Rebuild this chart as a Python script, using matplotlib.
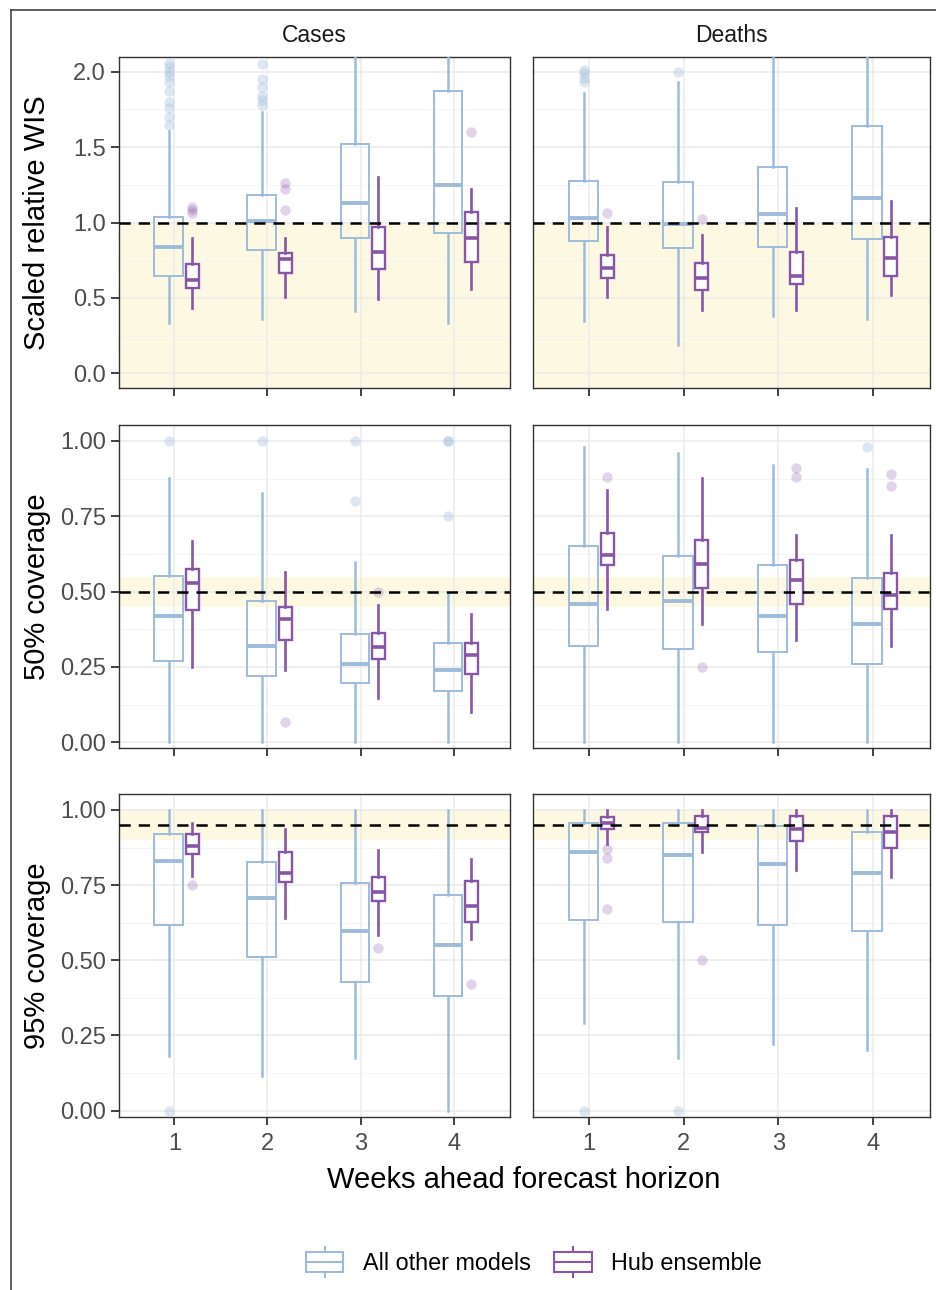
import numpy as np
import matplotlib
matplotlib.use("Agg")
import matplotlib.pyplot as plt
from matplotlib.lines import Line2D
from matplotlib.patches import Rectangle
from matplotlib.legend_handler import HandlerBase

plt.rcParams['font.family'] = ['Liberation Sans', 'DejaVu Sans']

horizons = [1, 2, 3, 4]
targets = ["Cases", "Deaths"]
group_labels = ["All other models", "Hub ensemble"]

# each row: [whisker low, q1, median, q3, whisker high] for horizons 1..4
wis_cases_others = [[0.334, 0.645, 0.84, 1.035, 1.61], [0.363, 0.817, 1.01, 1.183, 1.736],
                    [0.41, 0.90, 1.13, 1.52, 2.6], [0.334, 0.928, 1.25, 1.874, 2.9]]
wis_cases_others_out = [[1.65, 1.70, 1.76, 1.80, 1.87, 1.93, 1.97, 2.00, 2.03, 2.06],
                        [1.78, 1.81, 1.84, 1.90, 1.95, 2.05], [], []]
wis_cases_hub = [[0.43, 0.563, 0.618, 0.724, 0.895], [0.507, 0.667, 0.755, 0.795, 0.895],
                 [0.49, 0.693, 0.806, 0.972, 1.30], [0.556, 0.735, 0.90, 1.068, 1.22]]
wis_cases_hub_out = [[1.06, 1.08, 1.10], [1.08, 1.22, 1.26], [], [1.60]]

wis_deaths_others = [[0.348, 0.877, 1.028, 1.276, 1.858], [0.19, 0.828, 0.99, 1.27, 1.935],
                     [0.379, 0.835, 1.054, 1.37, 2.5], [0.357, 0.888, 1.16, 1.637, 2.8]]
wis_deaths_others_out = [[1.93, 1.96, 1.99, 2.01], [2.0], [], []]
wis_deaths_hub = [[0.507, 0.633, 0.696, 0.784, 0.972], [0.419, 0.551, 0.629, 0.728, 0.917],
                  [0.419, 0.591, 0.645, 0.806, 1.094], [0.518, 0.645, 0.762, 0.902, 1.143]]
wis_deaths_hub_out = [[1.065], [1.02], [], []]

cov50_cases_others = [[0.0, 0.27, 0.42, 0.551, 0.876], [0.0, 0.219, 0.319, 0.468, 0.828],
                      [0.0, 0.197, 0.259, 0.359, 0.599], [0.0, 0.169, 0.239, 0.33, 0.496]]
cov50_cases_others_out = [[1.0], [1.0], [0.8, 1.0], [0.75, 1.0, 1.0]]
cov50_cases_hub = [[0.25, 0.439, 0.527, 0.574, 0.668], [0.24, 0.341, 0.41, 0.45, 0.566],
                   [0.148, 0.275, 0.317, 0.363, 0.457], [0.10, 0.225, 0.289, 0.331, 0.427]]
cov50_cases_hub_out = [[], [0.067], [0.5], []]

cov50_deaths_others = [[0.0, 0.321, 0.458, 0.651, 0.979], [0.0, 0.308, 0.469, 0.619, 0.959],
                       [0.0, 0.298, 0.42, 0.59, 0.92], [0.0, 0.259, 0.391, 0.546, 0.906]]
cov50_deaths_others_out = [[], [], [], [0.98]]
cov50_deaths_hub = [[0.441, 0.588, 0.621, 0.693, 0.837], [0.391, 0.511, 0.591, 0.671, 0.878],
                    [0.341, 0.458, 0.54, 0.605, 0.688], [0.319, 0.441, 0.488, 0.562, 0.688]]
cov50_deaths_hub_out = [[0.881], [0.25], [0.879, 0.91], [0.85, 0.89]]

cov95_cases_others = [[0.182, 0.618, 0.829, 0.92, 1.0], [0.114, 0.511, 0.708, 0.828, 1.0],
                      [0.174, 0.428, 0.599, 0.756, 1.0], [0.0, 0.381, 0.55, 0.718, 1.0]]
cov95_cases_others_out = [[0.0], [], [], []]
cov95_cases_hub = [[0.781, 0.855, 0.881, 0.92, 0.955], [0.641, 0.759, 0.789, 0.859, 0.936],
                   [0.583, 0.696, 0.728, 0.778, 0.866], [0.57, 0.627, 0.679, 0.765, 0.837]]
cov95_cases_hub_out = [[0.75], [], [0.54], [0.42]]

cov95_deaths_others = [[0.29, 0.635, 0.861, 0.958, 1.0], [0.174, 0.627, 0.85, 0.958, 1.0],
                       [0.221, 0.618, 0.82, 0.947, 1.0], [0.202, 0.599, 0.789, 0.925, 1.0]]
cov95_deaths_others_out = [[0.0], [0.0], [], []]
cov95_deaths_hub = [[0.886, 0.938, 0.958, 0.978, 1.0], [0.861, 0.925, 0.941, 0.98, 1.0],
                    [0.80, 0.897, 0.936, 0.98, 1.0], [0.778, 0.873, 0.927, 0.98, 1.0]]
cov95_deaths_hub_out = [[0.67, 0.84, 0.87], [0.5], [], []]

row_titles = ["Scaled relative WIS", "50% coverage", "95% coverage"]
ref_lines = [1.0, 0.5, 0.95]
bands = [(-0.1, 1.0), (0.45, 0.55), (0.9, 1.0)]

panels = [
    [(wis_cases_others, wis_cases_others_out, wis_cases_hub, wis_cases_hub_out),
     (wis_deaths_others, wis_deaths_others_out, wis_deaths_hub, wis_deaths_hub_out)],
    [(cov50_cases_others, cov50_cases_others_out, cov50_cases_hub, cov50_cases_hub_out),
     (cov50_deaths_others, cov50_deaths_others_out, cov50_deaths_hub, cov50_deaths_hub_out)],
    [(cov95_cases_others, cov95_cases_others_out, cov95_cases_hub, cov95_cases_hub_out),
     (cov95_deaths_others, cov95_deaths_others_out, cov95_deaths_hub, cov95_deaths_hub_out)],
]

blue = "#9ebcda"
purple = "#8856a7"
band_col = "#fcf8e2"

W, H = 936, 1290
fig = plt.figure(figsize=(W / 100, H / 100), dpi=100)

col_px = [(118.5, 509.5), (532.5, 929.5)]
row_px = [(56.7, 388.3), (425.0, 748.3), (794.0, 1116.7)]


def to_stats(summ, outs):
    return [dict(whislo=s[0], q1=s[1], med=s[2], q3=s[3], whishi=s[4], fliers=o)
            for s, o in zip(summ, outs)]


for r in range(3):
    for c in range(2):
        x0, x1 = col_px[c]
        y0, y1 = row_px[r]
        ax = fig.add_axes([x0 / W, 1 - y1 / H, (x1 - x0) / W, (y1 - y0) / H])
        others, others_out, hub, hub_out = panels[r][c]

        ax.axhspan(bands[r][0], bands[r][1], color=band_col, lw=0, zorder=0.2)
        ax.set_axisbelow(True)

        pos_o = [h - 0.06 for h in horizons]
        pos_h = [h + 0.19 for h in horizons]
        ax.bxp(to_stats(others, others_out), positions=pos_o, widths=0.31,
               showcaps=False, patch_artist=True,
               boxprops=dict(facecolor="none", edgecolor=blue, linewidth=1.4),
               whiskerprops=dict(color=blue, linewidth=1.8),
               medianprops=dict(color=blue, linewidth=2.8),
               flierprops=dict(marker="o", markersize=7.5, markerfacecolor=blue,
                               markeredgecolor="none", alpha=0.35),
               manage_ticks=False, zorder=3)
        ax.bxp(to_stats(hub, hub_out), positions=pos_h, widths=0.14,
               showcaps=False, patch_artist=True,
               boxprops=dict(facecolor="white", edgecolor=purple, linewidth=1.7),
               whiskerprops=dict(color=purple, linewidth=1.9),
               medianprops=dict(color=purple, linewidth=2.6),
               flierprops=dict(marker="o", markersize=7.5, markerfacecolor=purple,
                               markeredgecolor="none", alpha=0.25),
               manage_ticks=False, zorder=3)

        ax.axhline(ref_lines[r], color="black", lw=1.8, dashes=(4.5, 3.2), zorder=4)

        ax.set_xlim(0.4, 4.6)
        ax.set_xticks(horizons)
        if r == 0:
            ax.set_ylim(-0.1, 2.1)
            ax.set_yticks([0, 0.5, 1.0, 1.5, 2.0])
            ax.set_yticks([0.25, 0.75, 1.25, 1.75], minor=True)
            ax.set_yticklabels(["0.0", "0.5", "1.0", "1.5", "2.0"])
        else:
            ax.set_ylim(-0.02, 1.053)
            ax.set_yticks([0, 0.25, 0.5, 0.75, 1.0])
            ax.set_yticks([0.125, 0.375, 0.625, 0.875], minor=True)
            ax.set_yticklabels(["0.00", "0.25", "0.50", "0.75", "1.00"])

        ax.grid(which="major", color="#ebebeb", lw=1.1)
        ax.grid(which="minor", axis="y", color="#f2f2f2", lw=0.6)
        for sp in ax.spines.values():
            sp.set_color("#333333")
            sp.set_linewidth(1.0)
        ax.tick_params(which="major", length=6, width=1.3, color="#333333",
                       labelsize=17, labelcolor="#4d4d4d", pad=3)
        ax.tick_params(axis="x", pad=6)
        ax.tick_params(which="minor", length=0)
        if c == 1:
            ax.tick_params(axis="y", which="both", left=False, labelleft=False)
        if r < 2:
            ax.tick_params(axis="x", labelbottom=False)

        if c == 0:
            yc = 1 - (y0 + y1) / 2 / H
            fig.text(37 / W, yc, row_titles[r], rotation=90, ha="center",
                     va="center", fontsize=21, color="black")
        if r == 0:
            fig.text((x0 + x1) / 2 / W, 1 - 35 / H, targets[c], ha="center",
                     va="center", fontsize=16.5, color="#1a1a1a")

fig.text(524 / W, 1 - 1180 / H, "Weeks ahead forecast horizon", ha="center",
         va="center", fontsize=21, color="black")


class BoxKey(HandlerBase):
    def create_artists(self, legend, orig_handle, xdescent, ydescent, width,
                       height, fontsize, trans):
        col = orig_handle.get_color()
        lw = orig_handle.get_linewidth()
        x0 = -xdescent
        y0 = -ydescent
        bh = height * 0.64
        by = y0 + (height - bh) / 2
        xm = x0 + width / 2
        rect = Rectangle((x0, by), width, bh, facecolor="white", edgecolor=col,
                         lw=lw, transform=trans)
        med = Line2D([x0, x0 + width], [by + bh / 2] * 2, color=col, lw=lw, transform=trans)
        w1 = Line2D([xm, xm], [y0, by], color=col, lw=lw, transform=trans)
        w2 = Line2D([xm, xm], [by + bh, y0 + height], color=col, lw=lw, transform=trans)
        return [rect, med, w1, w2]


handles = [Line2D([], [], color=blue, lw=1.5), Line2D([], [], color=purple, lw=1.5)]
fig.legend(handles, group_labels, loc="center", bbox_to_anchor=(534 / W, 1 - 1262 / H),
           ncol=2, frameon=False, fontsize=16.8, handlelength=1.6, handleheight=1.6,
           handletextpad=0.85, columnspacing=1.0,
           handler_map={Line2D: BoxKey()})

# frame remnants along the top and left edges
fig.add_artist(Line2D([11 / W, 1.0], [1 - 10 / H] * 2, color="#444444", lw=1.2))
fig.add_artist(Line2D([11 / W] * 2, [0.0, 1 - 10 / H], color="#444444", lw=1.2))

fig.savefig("out.png", dpi=100)
